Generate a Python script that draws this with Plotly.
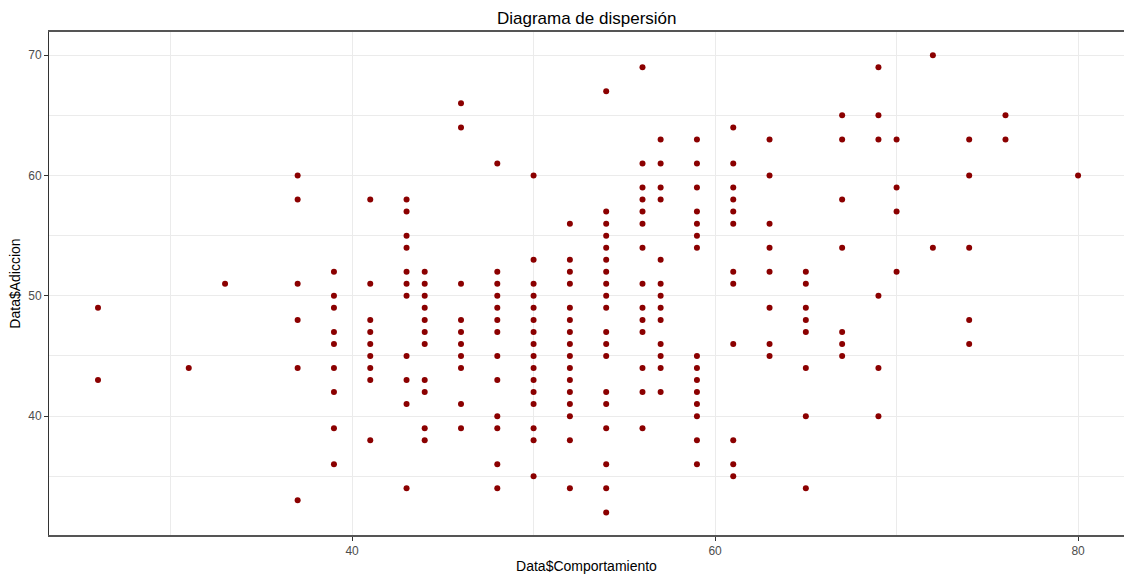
import plotly.graph_objects as go

# Comportamiento (x) y Adiccion (y), ordenados por columna de x
comportamiento = (
    [26] * 2 + [31] * 1 + [33] * 1 + [37] * 6 + [39] * 9 + [41] * 9 +
    [43] * 11 + [44] * 11 + [46] * 10 + [48] * 13 + [50] * 16 + [52] * 16 +
    [54] * 19 + [56] * 14 + [57] * 13 + [59] * 15 + [61] * 12 + [63] * 8 +
    [65] * 8 + [67] * 7 + [69] * 6 + [70] * 4 + [72] * 2 + [74] * 5 +
    [76] * 2 + [80] * 1
)

adiccion = [
    49, 43,                                                  # 26
    44,                                                      # 31
    51,                                                      # 33
    60, 58, 51, 48, 44, 33,                                  # 37
    52, 50, 49, 47, 46, 44, 42, 39, 36,                      # 39
    58, 51, 48, 47, 46, 45, 44, 43, 38,                      # 41
    58, 57, 55, 54, 52, 51, 50, 45, 43, 41, 34,              # 43
    52, 51, 50, 49, 48, 47, 46, 43, 42, 39, 38,              # 44
    66, 64, 51, 48, 47, 46, 45, 44, 41, 39,                  # 46
    61, 52, 51, 50, 49, 48, 47, 45, 43, 40, 39, 36, 34,      # 48
    60, 53, 51, 50, 49, 48, 47, 46, 45, 44, 43, 42, 41, 39, 38, 35,  # 50
    56, 53, 52, 51, 49, 48, 47, 46, 45, 44, 43, 42, 41, 40, 38, 34,  # 52
    67, 57, 56, 55, 54, 53, 52, 51, 50, 49, 47, 46, 45, 42, 41, 39, 36, 34, 32,  # 54
    69, 61, 59, 58, 57, 56, 54, 51, 49, 48, 47, 44, 42, 39,  # 56
    63, 61, 59, 58, 53, 51, 50, 49, 48, 46, 45, 44, 42,      # 57
    63, 61, 59, 57, 56, 55, 54, 45, 44, 43, 42, 41, 40, 38, 36,  # 59
    64, 61, 59, 58, 57, 56, 52, 51, 46, 38, 36, 35,          # 61
    63, 60, 56, 54, 52, 49, 46, 45,                          # 63
    52, 51, 49, 48, 47, 44, 40, 34,                          # 65
    65, 63, 58, 54, 47, 46, 45,                              # 67
    69, 65, 63, 50, 44, 40,                                  # 69
    63, 59, 57, 52,                                          # 70
    70, 54,                                                  # 72
    63, 60, 54, 48, 46,                                      # 74
    65, 63,                                                  # 76
    60,                                                      # 80
]

x_ticks = [40, 60, 80]
y_ticks = [40, 50, 60, 70]

FONT = "Liberation Sans, Arial, sans-serif"
GRID = "#EBEBEB"

fig = go.Figure(
    go.Scatter(
        x=comportamiento,
        y=adiccion,
        mode="markers",
        marker=dict(color="#8B0000", size=6, line=dict(width=0)),
        showlegend=False,
    )
)

fig.update_layout(
    width=1124,
    height=574,
    margin=dict(l=49, r=0, t=32, b=37),
    paper_bgcolor="white",
    plot_bgcolor="white",
    title=dict(
        text="Diagrama de dispersión",
        x=0.522,
        xanchor="center",
        y=0.968,
        yanchor="middle",
        font=dict(family=FONT, size=17, color="black"),
    ),
)

fig.update_xaxes(
    range=[23.3, 82.53],
    tickvals=x_ticks,
    ticks="outside",
    ticklen=4,
    tickcolor="#333333",
    tickfont=dict(family=FONT, size=12, color="#4D4D4D"),
    showgrid=True,
    gridcolor=GRID,
    gridwidth=1,
    minor=dict(tickvals=[30, 50, 70], showgrid=True, gridcolor=GRID, gridwidth=1, ticks=""),
    showline=True,
    linecolor="#555555",
    linewidth=1.5,
    mirror=True,
    zeroline=False,
    title=dict(text="Data$Comportamiento", font=dict(family=FONT, size=14, color="black"), standoff=6),
)

fig.update_yaxes(
    range=[30.12, 71.93],
    tickvals=y_ticks,
    ticks="outside",
    ticklen=4,
    tickcolor="#333333",
    tickfont=dict(family=FONT, size=12, color="#4D4D4D"),
    showgrid=True,
    gridcolor=GRID,
    gridwidth=1,
    minor=dict(tickvals=[35, 45, 55, 65], showgrid=True, gridcolor=GRID, gridwidth=1, ticks=""),
    showline=True,
    linecolor="#333333",
    linewidth=1,
    mirror=False,
    zeroline=False,
    title=dict(text="Data$Adiccion", font=dict(family=FONT, size=14, color="black"), standoff=4),
)

fig.write_html("out.html")
